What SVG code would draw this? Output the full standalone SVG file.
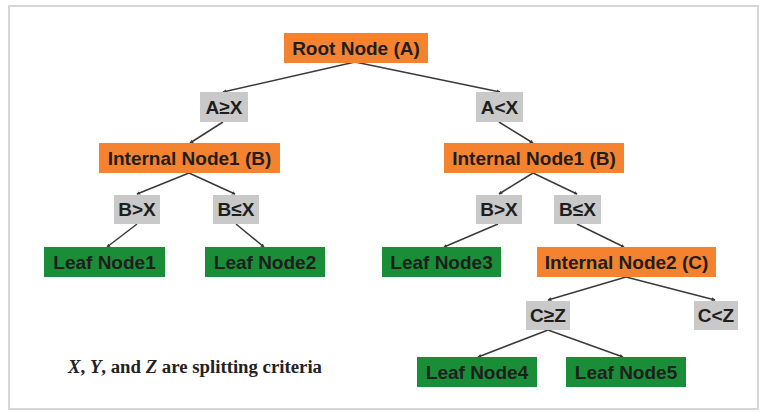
<svg xmlns="http://www.w3.org/2000/svg" width="763" height="412" viewBox="0 0 763 412">
<defs>
<style>
.o{fill:#f5822f}
.g{fill:#c9c9c9}
.l{fill:#1a8d38}
.t{font-family:"Liberation Sans",Arial,sans-serif;font-weight:bold;font-size:19px;fill:#1e1e1e;text-anchor:middle;dominant-baseline:central}
.c line{stroke:#3a3a3a;stroke-width:1.5;marker-end:url(#ah)}
.note{font-family:"Liberation Serif","Times New Roman",serif;font-weight:bold;font-size:18.5px;fill:#222}
</style>
<marker id="ah" viewBox="0 0 6 6" refX="5" refY="3" markerWidth="2.6" markerHeight="2.6" orient="auto" markerUnits="strokeWidth">
<path d="M0,0 L6,3 L0,6 z" fill="#3a3a3a"/>
</marker>
</defs>
<rect x="0" y="0" width="763" height="412" fill="#ffffff"/>
<rect x="9" y="6" width="749" height="403" fill="#ffffff" stroke="#d6d6d6" stroke-width="2"/>
<g class="c" id="connectors">
<line x1="355" y1="62" x2="223" y2="92"/>
<line x1="355" y1="62" x2="500" y2="92"/>
<line x1="223" y1="122" x2="190" y2="143"/>
<line x1="499" y1="122" x2="533" y2="143"/>
<line x1="189" y1="173" x2="137" y2="194"/>
<line x1="189" y1="173" x2="235" y2="194"/>
<line x1="137" y1="224" x2="107" y2="247"/>
<line x1="236" y1="224" x2="264" y2="247"/>
<line x1="533" y1="173" x2="499" y2="194"/>
<line x1="533" y1="173" x2="577" y2="194"/>
<line x1="498" y1="224" x2="444" y2="247"/>
<line x1="577" y1="224" x2="624" y2="247"/>
<line x1="626" y1="277" x2="548" y2="300"/>
<line x1="626" y1="277" x2="715" y2="300"/>
<line x1="548" y1="330" x2="478" y2="357"/>
<line x1="548" y1="330" x2="623" y2="357"/>
</g>
<g id="root"><rect class="o" x="284" y="33" width="144" height="30"/><text class="t" x="356" y="48">Root Node (A)</text></g>
<g id="axge"><rect class="g" x="200" y="92" width="48" height="30"/><text class="t" x="224" y="107">A≥X</text></g>
<g id="axlt"><rect class="g" x="476" y="92" width="47" height="30"/><text class="t" x="499.5" y="107">A&lt;X</text></g>
<g id="int1l"><rect class="o" x="99" y="143" width="181" height="30"/><text class="t" x="189.5" y="158">Internal Node1 (B)</text></g>
<g id="int1r"><rect class="o" x="444" y="143" width="180" height="30"/><text class="t" x="534" y="158">Internal Node1 (B)</text></g>
<g id="bgtl"><rect class="g" x="114" y="195" width="46" height="29"/><text class="t" x="137" y="209.5">B&gt;X</text></g>
<g id="blel"><rect class="g" x="213" y="195" width="46" height="29"/><text class="t" x="236" y="209.5">B≤X</text></g>
<g id="bgtr"><rect class="g" x="476" y="195" width="46" height="29"/><text class="t" x="499" y="209.5">B&gt;X</text></g>
<g id="bler"><rect class="g" x="554" y="195" width="47" height="29"/><text class="t" x="577.5" y="209.5">B≤X</text></g>
<g id="leaf1"><rect class="l" x="44" y="247" width="121" height="30"/><text class="t" x="104.5" y="262">Leaf Node1</text></g>
<g id="leaf2"><rect class="l" x="205" y="247" width="120" height="30"/><text class="t" x="265" y="262">Leaf Node2</text></g>
<g id="leaf3"><rect class="l" x="382" y="247" width="119" height="30"/><text class="t" x="441.5" y="262">Leaf Node3</text></g>
<g id="int2"><rect class="o" x="537" y="247" width="179" height="30"/><text class="t" x="626.5" y="262">Internal Node2 (C)</text></g>
<g id="czge"><rect class="g" x="526" y="301" width="44" height="29"/><text class="t" x="548" y="315.5">C≥Z</text></g>
<g id="czlt"><rect class="g" x="694" y="301" width="44" height="29"/><text class="t" x="716" y="315.5">C&lt;Z</text></g>
<g id="leaf4"><rect class="l" x="417" y="357" width="120" height="30"/><text class="t" x="477" y="372">Leaf Node4</text></g>
<g id="leaf5"><rect class="l" x="566" y="357" width="120" height="30"/><text class="t" x="626" y="372">Leaf Node5</text></g>
<text class="note" x="68" y="373" textLength="254" lengthAdjust="spacingAndGlyphs"><tspan font-style="italic">X</tspan>, <tspan font-style="italic">Y</tspan>, and <tspan font-style="italic">Z</tspan> are splitting criteria</text>
</svg>
